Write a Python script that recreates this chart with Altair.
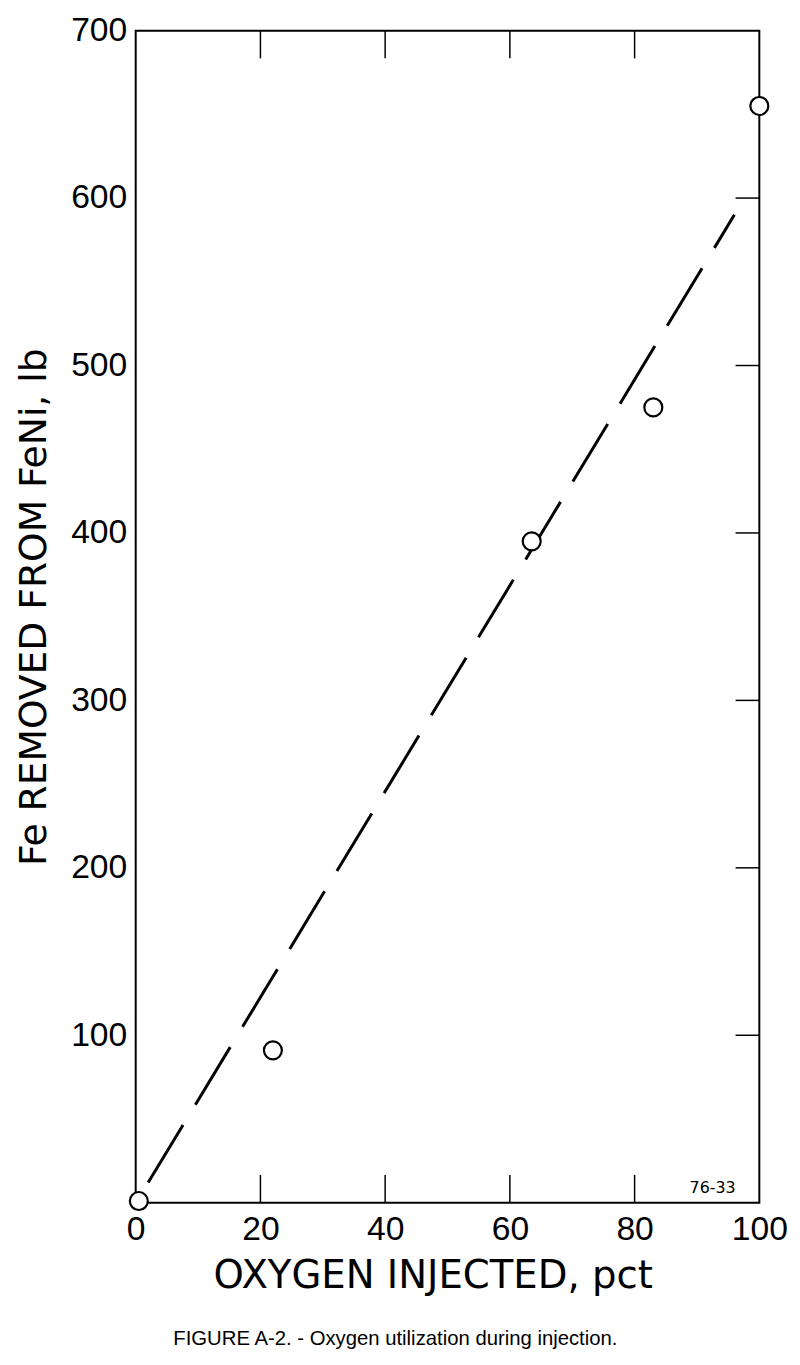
import altair as alt
import pandas as pd

# data
oxygen_pct = [0.5, 22, 63.5, 83, 100]
fe_removed = [1, 91, 395, 475, 655]

fit_x = [2, 96]
fit_y = [12, 590]

x_ticks = [20, 40, 60, 80]
y_ticks = [100, 200, 300, 400, 500, 600]
x_labels = [0, 20, 40, 60, 80, 100]
y_labels = [100, 200, 300, 400, 500, 600, 700]

x_title = "OXYGEN INJECTED, pct"
y_title = "Fe REMOVED FROM FeNi, lb"
caption = "FIGURE A-2. - Oxygen utilization during injection."
code_label = "76-33"

W, H = 630, 1184
TOP = 16

pts = pd.DataFrame({"x": oxygen_pct, "y": fe_removed})
fit = pd.DataFrame({"x": fit_x, "y": fit_y})
xt = pd.DataFrame({"x": x_ticks})
yt = pd.DataFrame({"y": y_ticks})

xscale = alt.Scale(domain=[0, 100], nice=False, zero=False)
yscale = alt.Scale(domain=[0, 700], nice=False, zero=False)

xaxis = alt.Axis(
    values=x_labels, ticks=False, domain=False, grid=False,
    labelFont="Liberation Sans", labelFontSize=34, labelColor="black",
    labelPadding=10, labelFlush=False,
    title=x_title, titleFont="DejaVu Sans", titleFontSize=39,
    titleFontWeight="normal", titleColor="black",
    titleX=300, titleY=74, titleBaseline="middle", titleAlign="center",
)
yaxis = alt.Axis(
    values=y_labels, ticks=False, domain=False, grid=False,
    labelFont="Liberation Sans", labelFontSize=34, labelColor="black",
    labelPadding=9, labelFlush=False,
    title=y_title, titleFont="DejaVu Sans", titleFontSize=38,
    titleFontWeight="normal", titleColor="black", titleAngle=-90,
    titleX=-102, titleY=582, titleBaseline="middle", titleAlign="center",
)

line = alt.Chart(fit).mark_line(
    color="black", strokeWidth=3, strokeDash=[68, 24], clip=False
).encode(
    x=alt.X("x:Q", scale=xscale, axis=xaxis),
    y=alt.Y("y:Q", scale=yscale, axis=yaxis),
)

points = alt.Chart(pts).mark_point(
    shape="circle", size=330, fill="white", fillOpacity=1, opacity=1,
    stroke="black", strokeWidth=2.2, clip=False
).encode(
    x=alt.X("x:Q", scale=xscale),
    y=alt.Y("y:Q", scale=yscale),
)

top_ticks = alt.Chart(xt).mark_rule(color="black", strokeWidth=1.5).encode(
    x=alt.X("x:Q", scale=xscale), y=alt.value(0), y2=alt.value(28)
)
bottom_ticks = alt.Chart(xt).mark_rule(color="black", strokeWidth=1.5).encode(
    x=alt.X("x:Q", scale=xscale), y=alt.value(H), y2=alt.value(H - 28)
)
right_ticks = alt.Chart(yt).mark_rule(color="black", strokeWidth=1.5).encode(
    y=alt.Y("y:Q", scale=yscale), x=alt.value(W), x2=alt.value(W - 24)
)

code_text = alt.Chart(pd.DataFrame({"t": [code_label]})).mark_text(
    font="DejaVu Sans", fontSize=16, color="black", align="right", baseline="middle"
).encode(text="t:N", x=alt.value(606), y=alt.value(H - 15))

caption_text = alt.Chart(pd.DataFrame({"t": [caption]})).mark_text(
    font="Liberation Sans", fontSize=20.5, color="black", align="left",
    baseline="middle"
).encode(text="t:N", x=alt.value(38), y=alt.value(H + 138))

chart = alt.layer(
    top_ticks, bottom_ticks, right_ticks, line, points, code_text, caption_text
).properties(
    width=W, height=H, autosize="none", background="white",
    padding={"left": 129, "top": TOP, "right": 33, "bottom": 149},
).configure_view(
    stroke="black", strokeWidth=2
)

chart.save("out.html", embed_options={"renderer": "svg", "actions": False})
